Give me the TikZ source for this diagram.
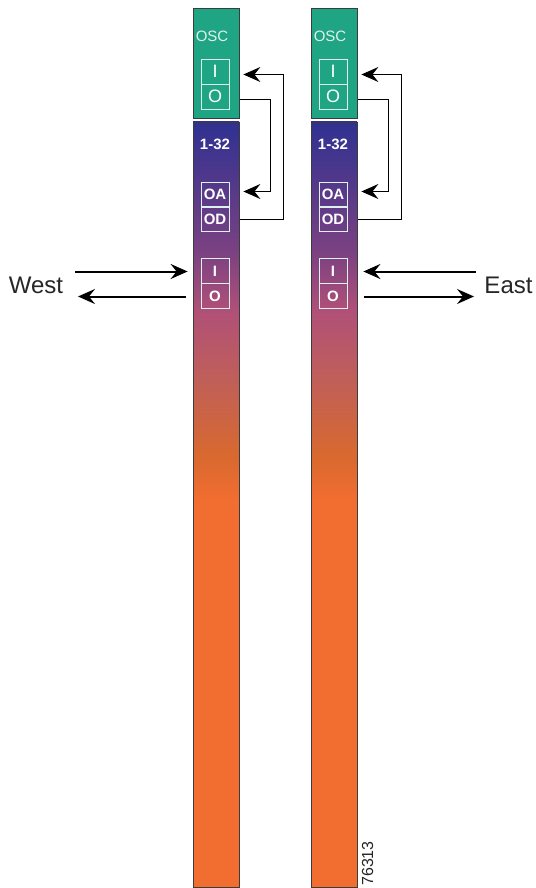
\documentclass[tikz,border=0pt]{standalone}
\usepackage{fontspec}
\setmainfont{Liberation Sans}
\usetikzlibrary{arrows.meta}
\definecolor{oscgreen}{HTML}{20A584}
\definecolor{edgegray}{HTML}{3C3C3C}
\definecolor{bandA}{HTML}{2F3192}
\definecolor{bandB}{HTML}{7A4182}
\definecolor{bandC}{HTML}{B05078}
\definecolor{bandD}{HTML}{C05F58}
\definecolor{bandE}{HTML}{D8692F}
\definecolor{bandF}{HTML}{F26D30}
\pgfdeclareverticalshading{bandshade}{100bp}{color(0bp)=(bandF); color(50.3bp)=(bandF);
  color(53.2bp)=(bandE); color(58.1bp)=(bandD); color(62.7bp)=(bandC);
  color(66.6bp)=(bandB); color(75bp)=(bandA); color(100bp)=(bandA)}
\tikzset{
  oscbox/.style={draw=edgegray,fill=oscgreen,line width=0.9pt,minimum width=46pt,minimum height=110pt,inner sep=0pt},
  bandbox/.style={draw=edgegray,shading=bandshade,line width=0.9pt,minimum width=46pt,minimum height=765pt,inner sep=0pt},
  portbox/.style={draw=white!85!oscgreen,line width=0.8pt,text=white,minimum width=28pt,minimum height=25pt,inner sep=0pt},
  link/.style={draw=black,line width=1pt,-{Stealth[length=17pt,width=15pt,inset=6pt]}},
  feed/.style={draw=black,line width=2pt,-{Stealth[length=17pt,width=15pt,inset=6pt]}},
  sidetext/.style={font=\fontsize{24}{24}\selectfont,text=black!85}
}
\begin{document}
\begin{tikzpicture}[x=1pt,y=-1pt]
  \useasboundingbox (0,0) rectangle (535,888);
  \foreach \c/\x in {L/193,R/311}{
    \node[oscbox] (osc\c) at (\x+23,63) {};
    \node[bandbox] (band\c) at (\x+23,504.5) {};
    \node[text=white!85!oscgreen,font=\fontsize{15}{15}\selectfont] (osclabel\c) at (\x+19,36) {OSC};
    \node[portbox,font=\fontsize{18}{18}\selectfont] (osci\c) at (\x+22,71.5) {I};
    \node[portbox,font=\fontsize{18}{18}\selectfont] (osco\c) at (\x+22,96.5) {O};
    \node[text=white,font=\bfseries\fontsize{15}{15}\selectfont] (range\c) at (\x+22,144) {1-32};
    \node[portbox,font=\bfseries\fontsize{15}{15}\selectfont] (oa\c) at (\x+22,194.5) {OA};
    \node[portbox,font=\bfseries\fontsize{15}{15}\selectfont] (od\c) at (\x+22,219) {OD};
    \node[portbox,font=\bfseries\fontsize{15}{15}\selectfont] (i\c) at (\x+22,271) {I};
    \node[portbox,font=\bfseries\fontsize{15}{15}\selectfont] (o\c) at (\x+22,296) {O};
    \draw[link,shorten <=11pt,shorten >=14pt] (od\c.east) -- ++(54,0) |- ([yshift=-3pt]osci\c.east);
    \draw[link,shorten <=11pt,shorten >=14pt] ([yshift=-3.5pt]osco\c.east) -- ++(41,0) |- ([yshift=3pt]oa\c.east);
  }
  \node[sidetext] (west) at (36,285) {West};
  \node[sidetext] (east) at (508.5,285) {East};
  \coordinate (westin) at (75,271.5);
  \coordinate (westout) at (78,296.5);
  \coordinate (eastin) at (476,271.5);
  \coordinate (eastout) at (474,296.5);
  \draw[feed,shorten >=13pt] (westin) -- (westin -| iL.west);
  \draw[feed,shorten <=15pt] (westout -| oL.west) -- (westout);
  \draw[feed,shorten >=16pt] (eastin) -- (eastin -| iR.east);
  \draw[feed,shorten <=17pt] (eastout -| oR.east) -- (eastout);
  \node[rotate=90,font=\fontsize{16}{16}\selectfont,text=black!85] (figno) at (367.5,863.5) {76313};
\end{tikzpicture}
\end{document}
